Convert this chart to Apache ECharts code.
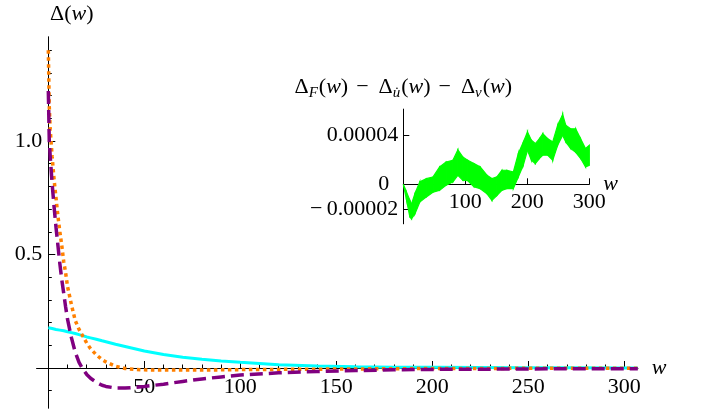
<!DOCTYPE html>
<html><head><meta charset="utf-8">
<script src="https://cdn.jsdelivr.net/npm/echarts@6/dist/echarts.min.js"></script>
<style>html,body{margin:0;padding:0;background:#fff}#c{width:705px;height:414px}</style>
</head><body><div id="c"></div>
<script>
// ---- main plot data ----
const wMain = [0, 0.5, 1, 2, 3, 4, 5, 6, 7, 8, 9, 10, 12, 14, 16, 18, 20, 22, 25, 28, 30, 35, 40, 45, 50, 60, 70, 80, 90, 100, 120, 140, 160, 180, 200, 225, 250, 275, 300, 307];
const cyanVals = [0.177, 0.176, 0.175, 0.174, 0.172, 0.170, 0.169, 0.167, 0.165, 0.164, 0.162, 0.160, 0.156, 0.152, 0.147, 0.142, 0.137, 0.133, 0.127, 0.120, 0.116, 0.105, 0.095, 0.085, 0.075, 0.060, 0.048, 0.039, 0.031, 0.025, 0.014, 0.009, 0.006, 0.004, 0.003, 0.002, 0.001, 0.001, 0.0005, 0.0005];
const orangeVals = [1.40, 1.15, 1.05, 0.93, 0.83, 0.75, 0.67, 0.60, 0.54, 0.47, 0.42, 0.36, 0.28, 0.21, 0.17, 0.14, 0.11, 0.085, 0.058, 0.037, 0.027, 0.008, -0.002, -0.006, -0.008, -0.009, -0.009, -0.009, -0.008, -0.007, -0.006, -0.005, -0.004, -0.003, -0.002, -0.002, -0.001, -0.001, -0.001, -0.001];
const purpleVals = [1.22, 1.0, 0.93, 0.81, 0.71, 0.62, 0.54, 0.46, 0.39, 0.33, 0.27, 0.215, 0.135, 0.07, 0.025, -0.005, -0.028, -0.045, -0.063, -0.076, -0.081, -0.088, -0.088, -0.085, -0.081, -0.071, -0.059, -0.048, -0.039, -0.031, -0.021, -0.015, -0.011, -0.008, -0.006, -0.005, -0.004, -0.003, -0.003, -0.003];
const mainXMajor = [50, 100, 150, 200, 250, 300];
const mainXMinor = [10, 20, 30, 40, 60, 70, 80, 90, 110, 120, 130, 140, 160, 170, 180, 190, 210, 220, 230, 240, 260, 270, 280, 290];
const mainYMajor = [0.5, 1.0];
const mainYMinor = [-0.1, 0.1, 0.2, 0.3, 0.4, 0.6, 0.7, 0.8, 0.9, 1.1, 1.2, 1.3, 1.4];

// ---- inset data (noisy band: lower / upper edge) ----
const wInset = [0, 5, 10.6, 13.3, 18.7, 26.6, 37, 48, 58.5, 69, 80, 88, 96, 104, 114, 124, 135, 143, 151, 159, 167, 177.5, 185.5, 193.4, 200.3, 206.7, 213, 219.6, 225, 233, 241, 249, 257, 262, 270, 278, 286, 294, 300];
const insetUpper = [0, -0.6e-5, -1.3e-5, -1.58e-5, -0.76e-5, 0.2e-5, 0.46e-5, 0.6e-5, 1.41e-5, 1.81e-5, 1.95e-5, 2.8e-5, 2.22e-5, 1.95e-5, 1.68e-5, 1.41e-5, 0.73e-5, 0.46e-5, 0.6e-5, 1.14e-5, 1.14e-5, 1.0e-5, 2.5e-5, 3.4e-5, 4.25e-5, 3.57e-5, 3.3e-5, 3.7e-5, 4.1e-5, 3.7e-5, 3.44e-5, 4.8e-5, 5.66e-5, 4.8e-5, 4.5e-5, 4.5e-5, 3.7e-5, 2.9e-5, 3.17e-5];
const insetLower = [0, -1.2e-5, -2.66e-5, -2.8e-5, -2.4e-5, -1.44e-5, -1.03e-5, -0.63e-5, -0.49e-5, -0.08e-5, 0.19e-5, 0.73e-5, 0.33e-5, 0.3e-5, -0.2e-5, -0.35e-5, -0.76e-5, -1.3e-5, -0.9e-5, -0.49e-5, -0.35e-5, -0.35e-5, 0.6e-5, 1.54e-5, 2.76e-5, 1.95e-5, 1.68e-5, 2.1e-5, 2.36e-5, 2.36e-5, 1.95e-5, 3.17e-5, 3.98e-5, 3.44e-5, 2.9e-5, 2.6e-5, 2.1e-5, 1.41e-5, 1.54e-5];
const insetXTicks = [100, 200, 300];
const insetYTicks = [-0.00002, 0, 0.00004];
const insetYLabels = ['\u2212\u20090.00002', '0', '0.00004'];

const FONT = 'Liberation Serif';
const fs = 22;
const txt = {fontFamily: FONT, fontSize: fs, color: '#000'};
const line = {show: true, onZero: false, lineStyle: {color: '#000', width: 1}};

const chart = echarts.init(document.getElementById('c'), null, {renderer: 'canvas'});
const pair = (xs, ys) => xs.map((x, i) => [x, ys[i]]);
// band segments for the inset: [w0, lo0, up0, w1, lo1, up1]
const bandSegs = wInset.slice(0, -1).map((w, i) => [w, insetLower[i], insetUpper[i], wInset[i + 1], insetLower[i + 1], insetUpper[i + 1]]);

chart.setOption({
  animation: false,
  backgroundColor: '#fff',
  grid: [
    {left: 36.8, right: 67.2, top: 37, bottom: 6, outerBoundsMode: 'none', containLabel: false},
    {left: 403.3, right: 115.7, top: 109.1, bottom: 190.2, outerBoundsMode: 'none', containLabel: false}
  ],
  xAxis: [
    {type: 'value', gridIndex: 0, min: -6, max: 307, position: 'bottom', offset: -40,
     axisLine: line, splitLine: {show: false},
     axisTick: {show: true, inside: true, length: 3.5, customValues: mainXMinor, lineStyle: {color: '#000'}},
     axisLabel: {show: false}},
    {type: 'value', gridIndex: 0, min: -6, max: 307, position: 'bottom', offset: -40,
     axisLine: line, splitLine: {show: false},
     name: 'w', nameLocation: 'end', nameGap: 14, nameMoveOverlap: false,
     nameTextStyle: Object.assign({}, txt, {fontStyle: 'italic', verticalAlign: 'middle'}),
     axisTick: {show: true, inside: true, length: 7, customValues: mainXMajor, lineStyle: {color: '#000'}},
     axisLabel: Object.assign({customValues: mainXMajor, margin: 8}, txt)},
    {type: 'value', gridIndex: 1, min: 0, max: 300, position: 'bottom', offset: -39.5,
     axisLine: line, splitLine: {show: false},
     name: 'w', nameLocation: 'end', nameGap: 14, nameMoveOverlap: false,
     nameTextStyle: Object.assign({}, txt, {fontStyle: 'italic', verticalAlign: 'middle', padding: [12, 0, 0, 0]}),
     axisTick: {show: true, inside: true, length: 6, customValues: insetXTicks, lineStyle: {color: '#000'}},
     axisLabel: Object.assign({customValues: insetXTicks, margin: 7}, txt)}
  ],
  yAxis: [
    {type: 'value', gridIndex: 0, min: -0.176, max: 1.458, position: 'left', offset: -11.5,
     axisLine: line, splitLine: {show: false},
     axisTick: {show: true, inside: true, length: 3.5, customValues: mainYMinor, lineStyle: {color: '#000'}},
     axisLabel: {show: false}},
    {type: 'value', gridIndex: 0, min: -0.176, max: 1.458, position: 'left', offset: -11.5,
     axisLine: line, splitLine: {show: false},
     name: '{t|\u0394(}{i|w}{t|)}', nameLocation: 'end', nameGap: 12, nameMoveOverlap: false,
     nameTextStyle: {padding: [0, 0, 0, 47], rich: {t: Object.assign({}, txt), i: Object.assign({}, txt, {fontStyle: 'italic'})}},
     axisTick: {show: true, inside: true, length: 7, customValues: mainYMajor, lineStyle: {color: '#000'}},
     axisLabel: Object.assign({customValues: mainYMajor, margin: 6, formatter: v => v.toFixed(1)}, txt)},
    {type: 'value', gridIndex: 1, min: -0.000032, max: 0.000061, position: 'left',
     axisLine: line, splitLine: {show: false},
     name: '{t|\u0394}{s|F}{t|(}{i|w}{t|)}{m|\u2212}{t|\u0394}{s|u\u0307}{t|(}{i|w}{t|)}{m|\u2212}{t|\u0394}{s|v}{t|(}{i|w}{t|)}',
     nameLocation: 'end', nameGap: 9, nameMoveOverlap: false,
     nameTextStyle: {rich: {
       t: Object.assign({}, txt, {lineHeight: 26}),
       m: Object.assign({}, txt, {lineHeight: 26, padding: [0, 10, 0, 8]}),
       i: Object.assign({}, txt, {fontStyle: 'italic', lineHeight: 26}),
       s: {fontFamily: FONT, fontSize: 15, fontStyle: 'italic', color: '#000', lineHeight: 15, verticalAlign: 'bottom', padding: [0, 1, 0, 0]}
     }},
     axisTick: {show: true, inside: true, length: 6, customValues: insetYTicks, lineStyle: {color: '#000'}},
     axisLabel: Object.assign({customValues: insetYTicks, margin: 5,
       formatter: v => {
         let best = 0;
         insetYTicks.forEach((t, i) => { if (Math.abs(t - v) < Math.abs(insetYTicks[best] - v)) best = i; });
         return insetYTicks[best] === 0 ? '{z|0}' : insetYLabels[best];
       },
       rich: {z: Object.assign({}, txt, {padding: [0, 9, 0, 0]})}}, txt)}
  ],
  series: [
    {type: 'line', xAxisIndex: 0, yAxisIndex: 0, data: pair(wMain, cyanVals), showSymbol: false,
     lineStyle: {color: '#00FFFF', width: 3}},
    {type: 'line', xAxisIndex: 0, yAxisIndex: 0, data: pair(wMain, orangeVals), showSymbol: false,
     lineStyle: {color: '#FF8000', width: 3.5, type: [3.5, 3.5], cap: 'butt'}},
    {type: 'line', xAxisIndex: 0, yAxisIndex: 0, data: pair(wMain, purpleVals), showSymbol: false,
     lineStyle: {color: '#800080', width: 3.5, type: [13, 6], cap: 'butt'}},
    {type: 'custom', xAxisIndex: 2, yAxisIndex: 2, data: bandSegs,
     encode: {x: [0, 3], y: [1, 2, 4, 5]},
     renderItem: (params, api) => {
       const a = api.coord([api.value(0), api.value(2)]);
       const b = api.coord([api.value(3), api.value(5)]);
       const c = api.coord([api.value(3), api.value(4)]);
       const d = api.coord([api.value(0), api.value(1)]);
       return {type: 'polygon', shape: {points: [a, b, c, d]},
               style: {fill: '#00FF00', stroke: '#00FF00', lineWidth: 1.2}};
     }}
  ]
});
</script></body></html>
